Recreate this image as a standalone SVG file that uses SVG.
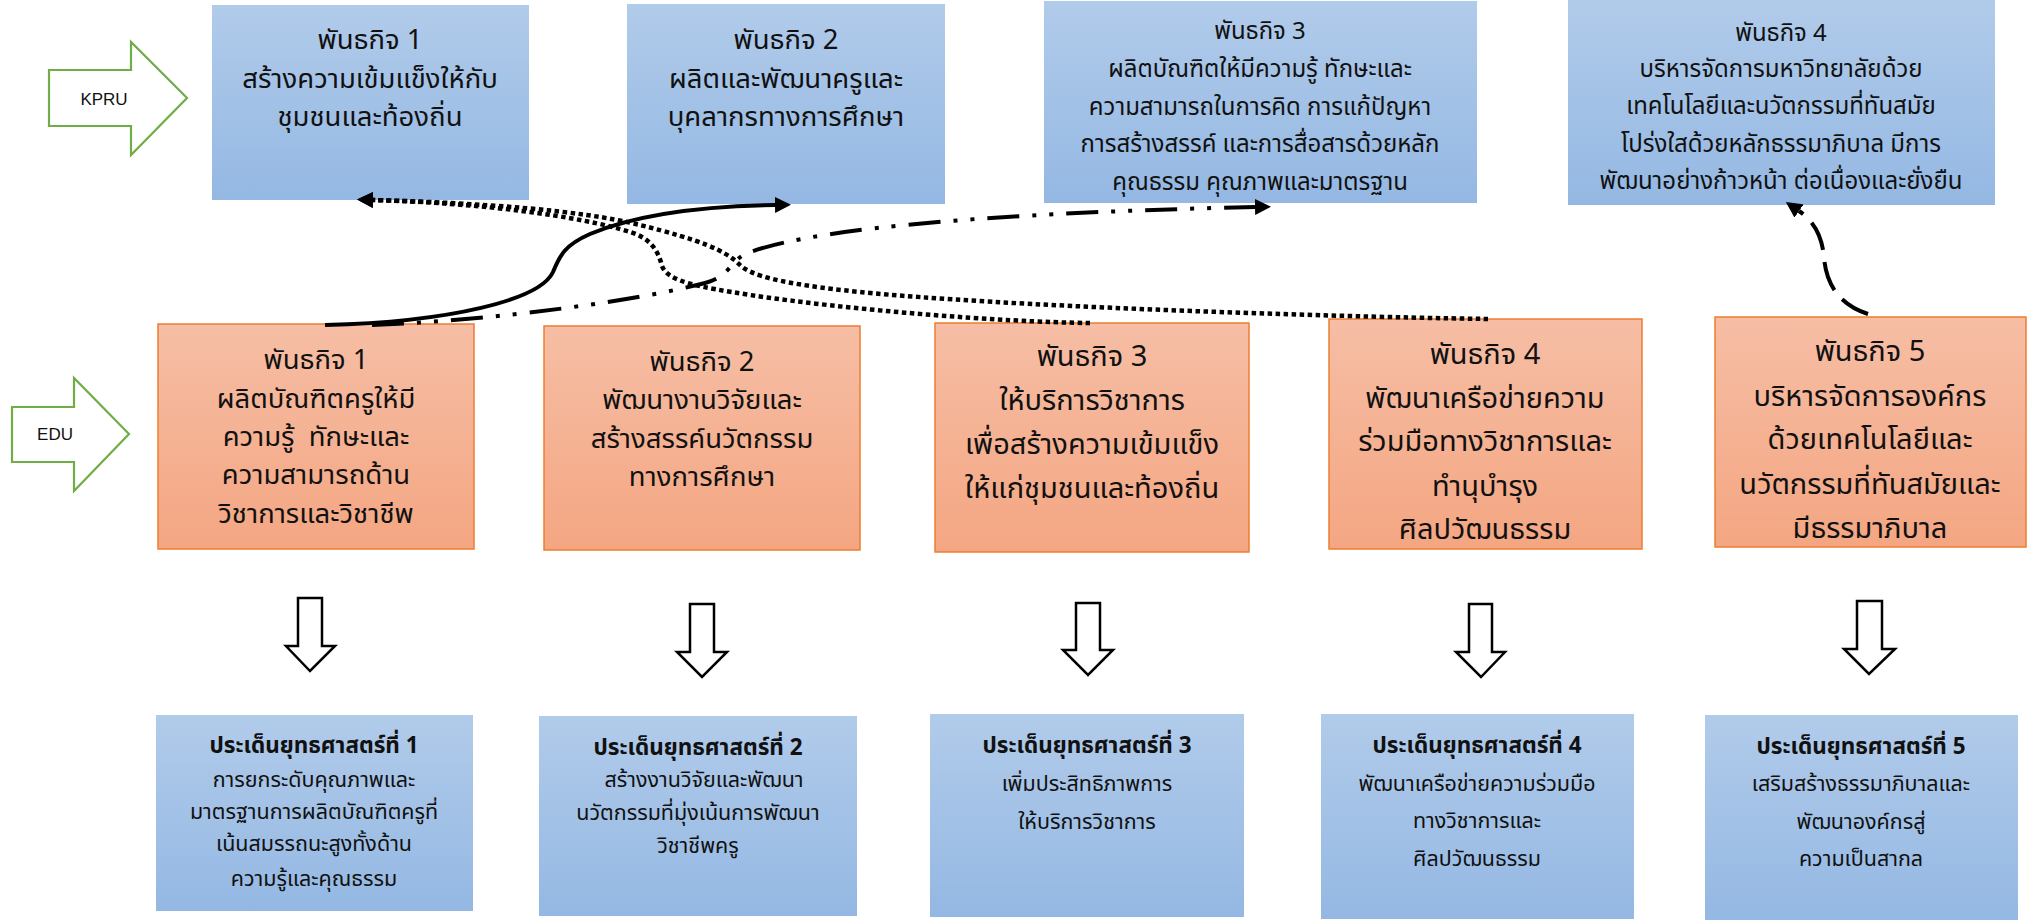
<svg xmlns="http://www.w3.org/2000/svg" width="2028" height="921" viewBox="0 0 2028 921">
<defs>
<linearGradient id="gb" x1="0" y1="0" x2="0" y2="1"><stop offset="0" stop-color="#B1CBEA"/><stop offset="1" stop-color="#94B8E3"/></linearGradient>
<linearGradient id="go" x1="0" y1="0" x2="0" y2="1"><stop offset="0" stop-color="#F6BEA5"/><stop offset="1" stop-color="#F4A682"/></linearGradient>
<marker id="ah" viewBox="0 0 10 10" refX="0" refY="5" markerWidth="16" markerHeight="16" markerUnits="userSpaceOnUse" orient="auto"><path d="M0,0 L10,5 L0,10 z" fill="#000"/></marker>
<style>
.bb{fill:url(#gb);}
.ob{fill:url(#go);stroke:#ED7D31;stroke-width:1.5;}
.t{font-family:"Noto Sans Thai","Noto Sans Thai UI","Leelawadee UI",Tahoma,"Noto Sans",sans-serif;fill:#111;text-anchor:middle;}
.f1{font-size:27.5px;}
.f4{font-size:29px;}
.f2{font-size:24px;}
.f3{font-size:21.5px;}
.bd{font-weight:bold;font-size:22.5px;}
.lbl{font-family:"Liberation Sans",Arial,sans-serif;font-size:17px;fill:#111;text-anchor:middle;}
.garrow{fill:#fff;stroke:#70AD47;stroke-width:2.2;}
.darrow{fill:#fff;stroke:#000;stroke-width:2.5;stroke-linejoin:miter;}
.c{fill:none;stroke:#000;stroke-width:4;}
.solid{}
.dd{stroke-dasharray:32 13 4 13 4 13;}
.dot{stroke-width:4.5;stroke-dasharray:4.5 3.5;}
.dash{stroke-dasharray:30 12;}
</style>
</defs>

<g id="kpru-arrow">
<polygon class="garrow" points="49,70 131,70 131,42 187,98 131,155 131,126 49,126"/>
<text class="lbl" x="104" y="105">KPRU</text>
</g>
<g id="edu-arrow">
<polygon class="garrow" points="12,407 74,407 74,378 129,434 74,491 74,462 12,462"/>
<text class="lbl" x="55" y="440">EDU</text>
</g>

<g id="k1">
<rect class="bb" x="212" y="5" width="317" height="195"/>
<text class="t f1" x="370" y="49">พันธกิจ 1</text>
<text class="t f1" x="370" y="88">สร้างความเข้มแข็งให้กับ</text>
<text class="t f1" x="370" y="126">ชุมชนและท้องถิ่น</text>
</g>
<g id="k2">
<rect class="bb" x="627" y="4" width="318" height="200"/>
<text class="t f1" x="786" y="49">พันธกิจ 2</text>
<text class="t f1" x="786" y="88">ผลิตและพัฒนาครูและ</text>
<text class="t f1" x="786" y="126">บุคลากรทางการศึกษา</text>
</g>
<g id="k3">
<rect class="bb" x="1044" y="1" width="433" height="202"/>
<text class="t f2" x="1260" y="39">พันธกิจ 3</text>
<text class="t f2" x="1260" y="77">ผลิตบัณฑิตให้มีความรู้ ทักษะและ</text>
<text class="t f2" x="1260" y="115">ความสามารถในการคิด การแก้ปัญหา</text>
<text class="t f2" x="1260" y="152">การสร้างสรรค์ และการสื่อสารด้วยหลัก</text>
<text class="t f2" x="1260" y="190">คุณธรรม คุณภาพและมาตรฐาน</text>
</g>
<g id="k4">
<rect class="bb" x="1568" y="0" width="427" height="205"/>
<text class="t f2" x="1781" y="41">พันธกิจ 4</text>
<text class="t f2" x="1781" y="77">บริหารจัดการมหาวิทยาลัยด้วย</text>
<text class="t f2" x="1781" y="114">เทคโนโลยีและนวัตกรรมที่ทันสมัย</text>
<text class="t f2" x="1781" y="152">โปร่งใสด้วยหลักธรรมาภิบาล มีการ</text>
<text class="t f2" x="1781" y="189">พัฒนาอย่างก้าวหน้า ต่อเนื่องและยั่งยืน</text>
</g>

<g id="e1">
<rect class="ob" x="158" y="324" width="316" height="225"/>
<text class="t f1" x="316" y="369">พันธกิจ 1</text>
<text class="t f1" x="316" y="408">ผลิตบัณฑิตครูให้มี</text>
<text class="t f1" x="316" y="446" xml:space="preserve">ความรู้  ทักษะและ</text>
<text class="t f1" x="316" y="484">ความสามารถด้าน</text>
<text class="t f1" x="316" y="523">วิชาการและวิชาชีพ</text>
</g>
<g id="e2">
<rect class="ob" x="544" y="326" width="316" height="224"/>
<text class="t f1" x="702" y="371">พันธกิจ 2</text>
<text class="t f1" x="702" y="409">พัฒนางานวิจัยและ</text>
<text class="t f1" x="702" y="448">สร้างสรรค์นวัตกรรม</text>
<text class="t f1" x="702" y="486">ทางการศึกษา</text>
</g>
<g id="e3">
<rect class="ob" x="935" y="323" width="314" height="229"/>
<text class="t f4" x="1092" y="366">พันธกิจ 3</text>
<text class="t f4" x="1092" y="410">ให้บริการวิชาการ</text>
<text class="t f4" x="1092" y="454">เพื่อสร้างความเข้มแข็ง</text>
<text class="t f4" x="1092" y="498">ให้แก่ชุมชนและท้องถิ่น</text>
</g>
<g id="e4">
<rect class="ob" x="1329" y="319" width="313" height="230"/>
<text class="t f4" x="1485" y="364">พันธกิจ 4</text>
<text class="t f4" x="1485" y="408">พัฒนาเครือข่ายความ</text>
<text class="t f4" x="1485" y="451">ร่วมมือทางวิชาการและ</text>
<text class="t f4" x="1485" y="496">ทำนุบำรุง</text>
<text class="t f4" x="1485" y="539">ศิลปวัฒนธรรม</text>
</g>
<g id="e5">
<rect class="ob" x="1715" y="317" width="311" height="230"/>
<text class="t f4" x="1870" y="361">พันธกิจ 5</text>
<text class="t f4" x="1870" y="406">บริหารจัดการองค์กร</text>
<text class="t f4" x="1870" y="449">ด้วยเทคโนโลยีและ</text>
<text class="t f4" x="1870" y="494">นวัตกรรมที่ทันสมัยและ</text>
<text class="t f4" x="1870" y="538">มีธรรมาภิบาล</text>
</g>

<g id="down-arrows">
<polygon class="darrow" points="298,598 322,598 322,646 335,646 310,671 286,646 298,646"/>
<polygon class="darrow" points="690,604 714,604 714,652 727,652 702,677 677,652 690,652"/>
<polygon class="darrow" points="1076,603 1100,603 1100,650 1113,650 1088,675 1063,650 1076,650"/>
<polygon class="darrow" points="1469,604 1492,604 1492,652 1505,652 1481,677 1456,652 1469,652"/>
<polygon class="darrow" points="1857,601 1882,601 1882,649 1895,649 1869,674 1844,649 1857,649"/>
</g>

<g id="s1">
<rect class="bb" x="156" y="715" width="317" height="196"/>
<text class="t bd" x="314" y="753">ประเด็นยุทธศาสตร์ที่ 1</text>
<text class="t f3" x="314" y="787">การยกระดับคุณภาพและ</text>
<text class="t f3" x="314" y="819">มาตรฐานการผลิตบัณฑิตครูที่</text>
<text class="t f3" x="314" y="851">เน้นสมรรถนะสูงทั้งด้าน</text>
<text class="t f3" x="314" y="886">ความรู้และคุณธรรม</text>
</g>
<g id="s2">
<rect class="bb" x="539" y="716" width="318" height="200"/>
<text class="t bd" x="698" y="755">ประเด็นยุทธศาสตร์ที่ 2</text>
<text class="t f3" x="704" y="787">สร้างงานวิจัยและพัฒนา</text>
<text class="t f3" x="698" y="820">นวัตกรรมที่มุ่งเน้นการพัฒนา</text>
<text class="t f3" x="698" y="853">วิชาชีพครู</text>
</g>
<g id="s3">
<rect class="bb" x="930" y="714" width="314" height="203"/>
<text class="t bd" x="1087" y="753">ประเด็นยุทธศาสตร์ที่ 3</text>
<text class="t f3" x="1087" y="791">เพิ่มประสิทธิภาพการ</text>
<text class="t f3" x="1087" y="829">ให้บริการวิชาการ</text>
</g>
<g id="s4">
<rect class="bb" x="1321" y="714" width="313" height="205"/>
<text class="t bd" x="1477" y="753">ประเด็นยุทธศาสตร์ที่ 4</text>
<text class="t f3" x="1477" y="791">พัฒนาเครือข่ายความร่วมมือ</text>
<text class="t f3" x="1477" y="828">ทางวิชาการและ</text>
<text class="t f3" x="1477" y="866">ศิลปวัฒนธรรม</text>
</g>
<g id="s5">
<rect class="bb" x="1705" y="715" width="313" height="205"/>
<text class="t bd" x="1861" y="754">ประเด็นยุทธศาสตร์ที่ 5</text>
<text class="t f3" x="1861" y="791">เสริมสร้างธรรมาภิบาลและ</text>
<text class="t f3" x="1861" y="829">พัฒนาองค์กรสู่</text>
<text class="t f3" x="1861" y="866">ความเป็นสากล</text>
</g>

<g id="connectors">
<path class="c dot" d="M1090,323 C1000,322 850,310 750,295 C700,287 668,282 662,266 C658,250 650,238 630,232 C580,216 480,203 373,200" marker-end="url(#ah)"/>
<path class="c dot" d="M1488,319 C1300,316 1000,306 860,292 C780,284 750,275 740,265 C725,250 700,240 640,225 C580,210 480,203 373,200" marker-end="url(#ah)"/>
<path class="c solid" d="M325,325 C450,322 540,300 553,272 C560,255 565,245 590,234 C640,213 710,206 775,205" marker-end="url(#ah)"/>
<path class="c dd" d="M372,325 C500,320 640,300 705,283 C730,276 730,262 745,254 C800,232 950,214 1255,207" marker-end="url(#ah)"/>
<path class="c dash" d="M1868,314 C1840,305 1826,285 1824,257 C1822,237 1815,222 1799,211" marker-end="url(#ah)"/>
</g>
</svg>
